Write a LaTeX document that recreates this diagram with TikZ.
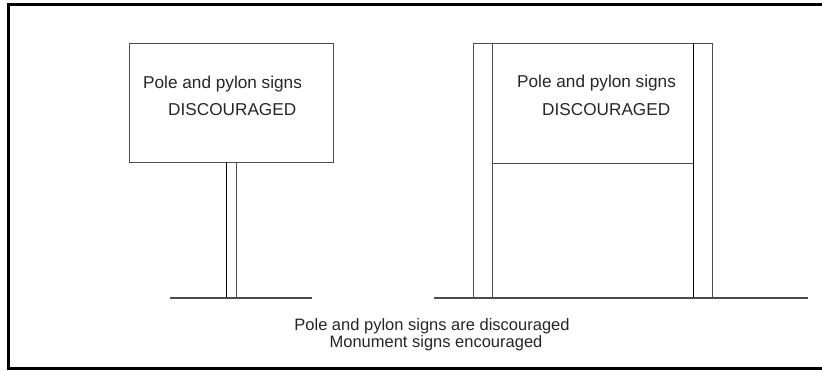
\documentclass[tikz,border=0pt]{standalone}
\usepackage{fontspec}
\setmainfont{Liberation Sans}
\begin{document}
\begin{tikzpicture}[x=1pt,y=-1pt,
  line/.style={draw=black!70,line width=0.9pt},
  label/.style={inner sep=0pt,anchor=west,text=black!85,font=\fontsize{17.2}{19}\selectfont}]
\useasboundingbox (0,0) rectangle (822,370);
% frame, open to the right
\draw [line width=3pt] (822,4) -- (8.5,4) -- (8.5,368.5) -- (822,368.5);
% pole sign
\draw [line] (129,43) rectangle (333,162);
\draw [line] (236,162) -- (236,298);
\draw [line,draw=black,line width=1.4pt] (226.5,162) -- (226.5,298);
\draw [line,line width=1.3pt] (170,298) -- (312,298);
\node [label] (poleA) at (143,84) {Pole and pylon signs};
\node [label] (discA) at (168,110) {DISCOURAGED};
% monument sign
\draw [line] (473,298) |- (712,43) -- (712,298);
\draw [line] (492,43) -- (492,298);
\draw [line,draw=black,line width=1.4pt] (693.5,43) -- (693.5,298);
\draw [line] (492,163) -- (693,163);
\draw [line,line width=1.3pt] (434,298) -- (808,298);
\node [label] (poleB) at (517,83) {Pole and pylon signs};
\node [label] (discB) at (542,110) {DISCOURAGED};
% caption
\node [label,anchor=center,font=\fontsize{16.5}{19}\selectfont] (capA) at (432,326) {Pole and pylon signs are discouraged};
\node [label,anchor=center,font=\fontsize{16.5}{19}\selectfont] (capB) at (436,343) {Monument signs encouraged};
\end{tikzpicture}
\end{document}
